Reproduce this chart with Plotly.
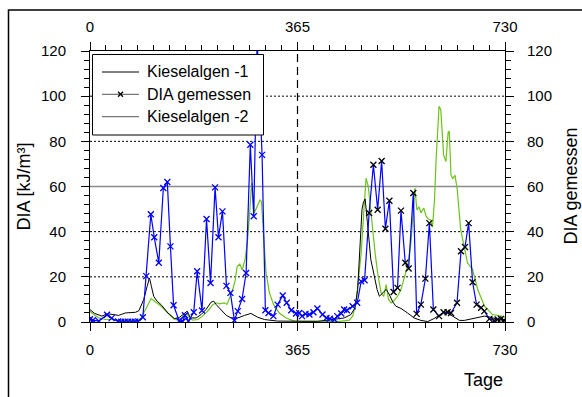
import plotly.graph_objects as go

# --- data -------------------------------------------------------------
# measured diatom values (day, kJ/m3)
dia_days = [0, 5, 15.5, 30, 38, 49.5, 55, 61, 67, 73, 79, 85, 93, 99, 107, 113, 121,
            129, 136, 141.5, 147, 157, 163, 167, 173, 182.5, 188.5, 197, 205, 212, 220,
            226, 233, 240, 247, 254, 260, 267.5, 274.6, 282, 288, 294, 302.7, 308.5,
            314, 322.6, 330, 339, 346, 354, 362.5, 368, 373, 379, 386, 393, 400, 409,
            416, 422, 430, 435, 442, 447, 452, 462, 470, 477, 483, 491, 498.5, 506,
            513, 519.6, 526.6, 534, 541, 547, 554.6, 560.5, 568.7, 574.6, 582, 590,
            597, 604, 614, 622, 629, 635, 645.6, 652.6, 659.6, 666, 673, 680, 688,
            693.6, 702.5, 711, 717, 723, 728]
dia_vals = [1.2, 0.8, 0.4, 3.2, 1.7, 0.2, 0.1, 0.1, 0.1, 0.1, 0.1, 0.2, 2.1, 20.3, 47.7,
            37.5, 26.2, 59.3, 62, 33.5, 7.4, 0.4, 0.2, 3, 0.4, 4.3, 22.5, 5.1, 45.6, 17.3,
            59.6, 37.5, 49, 16, 12.9, 0.7, 4.8, 10.2, 21.7, 78.5, 46.8, 125, 74, 5.2,
            4, 2.6, 7.7, 11.7, 8.5, 5.2, 3.8, 4, 2.6, 3.6, 3.3, 4.3, 6, 3.3,
            1.8, 1.5, 1.1, 2.6, 3.8, 5.5, 5.2, 7, 8.5, 18, 18.5, 48.3, 69.6, 49.7,
            71.3, 41.3, 53.7, 13.3, 15.1, 49.3, 26.2, 23.7, 57.1, 3.6, 7.7, 19.2,
            43.8, 5.5, 2.6, 4.3, 4.3, 4, 8.5, 31.3, 33.2, 43.8, 17.6, 7.7, 6.3,
            4.8, 1.4, 0.6, 1.1, 1.4, 0.8]

# simulated diatoms, run 1
k1_days = [0, 8, 21, 30, 42, 50, 62, 80, 86, 94.6, 100.5, 104.6, 108, 112, 118, 125,
           137, 148.6, 157, 166, 171, 176.6, 186.7, 195.5, 204, 213, 217.7, 222, 230.6,
           239.5, 248, 260, 271.6, 283, 295, 306.8, 330, 362.5, 400, 418, 447, 459, 466,
           470.8, 475, 478.5, 481, 484, 488, 494, 499, 505, 509, 516, 521, 525, 532.6,
           538, 547, 558.6, 570, 582, 594, 605, 614.5, 623, 629, 638, 650, 658.5, 670,
           681.6, 693.6, 705, 717, 730]
k1_vals = [5.5, 3.8, 2.6, 3.6, 3.3, 2.9, 4, 4.3, 5, 10, 15.8, 19.5, 15.8, 11.4, 9.2, 7.7,
           4, 1.5, 2, 4, 4.8, 1.8, 1.8, 3.3, 5.5, 8.8, 9.2, 7.7, 5.5,
           3, 1.8, 1.8, 2.9, 3.8, 2.1, 1.1, 0.4, 0.3, 0.3, 0.8, 1.8, 3.3, 6.3,
           14.4, 33.5, 50, 53, 54.5, 44, 27.6, 21.7, 14.4, 11.4, 13.2, 14.4, 12.9, 8.9,
           7, 6, 4, 1.8, 0.7, 0.2, 1.5, 3, 4.3, 4, 2.6, 0.7, 0.7, 1.4,
           2.1, 2.6, 2.1, 1.1, 0.7]

# simulated diatoms, run 2
k2_days = [0, 6.7, 15.5, 27, 39, 56.6, 80, 89, 96, 103, 107.6, 112, 118, 125, 137, 148.6,
           157, 165, 171, 175, 180.7, 189.5, 198, 207, 216, 222, 227.7, 236.5, 241, 245,
           250, 255, 259, 263.5, 267.6, 273, 277, 280.5, 284.3, 289, 294, 299, 301.5,
           305.6, 309.7, 315.6, 323, 333, 345, 359.5, 400, 440, 456, 462, 468, 472.6,
           477, 481.5, 485.6, 489.6, 493, 497, 501.5, 506, 512, 516.6, 521, 525, 529.6,
           535, 541, 547, 553, 558.6, 564.6, 569, 571.6, 575, 579, 582, 587, 591, 595,
           598.6, 602.5, 606, 609, 614, 617, 622, 626, 630, 632, 635, 638, 642, 646,
           652, 658, 664, 673, 682, 694, 708, 723, 730]
k2_vals = [4.8, 3.3, 1.8, 1.1, 1.1, 0.7, 0.7, 1.4, 4.8, 8.5, 10.4, 9.5, 8.5, 7, 4, 1.1,
           0.8, 2.9, 3.6, 1.8, 0.8, 1.1, 2.6, 4.8, 7.7, 8.5, 8, 8.5, 7.8, 10.5,
           13.5, 18, 24.7, 25.7, 23, 28, 36, 46.7, 61.5, 48.3, 51, 54, 53.4,
           36.5, 21.7, 12.9, 7.7, 4, 1.8, 0.4, 0.3, 0.3, 0.8, 2.6, 8.5, 18.8,
           30.6, 48.3, 63.7, 60, 51.2, 40.9, 30.6, 21.7, 12.9, 11.4, 16.6, 10, 8.5,
           9.5, 11.4, 14.4, 20.3, 24.7, 35, 48.3, 59.3, 49.7, 51, 48.3, 50.5, 47, 45.6,
           45.3, 42, 54, 73, 95.5, 94, 74, 71, 84, 84.5, 65, 63.5, 65, 58.6,
           41, 33.5, 26.2, 23.2, 14.4, 7, 3.3, 2.6, 2.1]

# axis labels and legend entries
x_ticks = [0, 365, 730]
y_ticks = [0, 20, 40, 60, 80, 100, 120]
legend_names = ["Kieselalgen -1", "DIA gemessen", "Kieselalgen -2"]
legend_colors = ["black", "#555555", "#555555"]

FONT = "Arial, Liberation Sans, sans-serif"
BLUE = "#0000ff"
GREEN = "#6cc31a"

# plot area geometry in pixels (used for paper-coordinate placement)
L, R, T, B = 90, 77, 51, 75
W, H = 582, 397
PW, PH = W - L - R, H - T - B


def px(x):
    return (x - L) / PW


def py(y):
    return (H - B - y) / PH


# markers of the second year are drawn in black
marker_cols = [BLUE if d < 488 else "black" for d in dia_days]

fig = go.Figure()

fig.add_trace(go.Scatter(x=k2_days, y=k2_vals, mode="lines", name=legend_names[2],
                         line=dict(color=GREEN, width=1.2), showlegend=False))
fig.add_trace(go.Scatter(x=k1_days, y=k1_vals, mode="lines", name=legend_names[0],
                         line=dict(color="black", width=1), showlegend=False))
fig.add_trace(go.Scatter(x=dia_days, y=dia_vals, mode="lines+markers", yaxis="y2",
                         name=legend_names[1],
                         line=dict(color=BLUE, width=1.2),
                         marker=dict(symbol="x-thin", size=6,
                                     line=dict(color=marker_cols, width=1.3)),
                         showlegend=False))
# carrier for the top axis
fig.add_trace(go.Scatter(x=[None], y=[None], xaxis="x2", showlegend=False))

shapes = []
# horizontal grid
for v in [20, 40, 80, 100]:
    shapes.append(dict(type="line", xref="paper", x0=0, x1=1, yref="y", y0=v, y1=v,
                       line=dict(color="black", width=1, dash="2px,2px"), layer="below"))
shapes.append(dict(type="line", xref="paper", x0=0, x1=1, yref="y", y0=60, y1=60,
                   line=dict(color="#8a8a8a", width=1.3), layer="below"))
# year boundary
shapes.append(dict(type="line", xref="x", x0=365, x1=365, yref="y", y0=0, y1=120,
                   line=dict(color="black", width=1.2, dash="8px,5px"), layer="below"))
# outer frame
shapes.append(dict(type="rect", xref="paper", yref="paper",
                   x0=px(8.5), x1=1.4, y0=-0.6, y1=py(10),
                   line=dict(color="black", width=1.5), fillcolor="rgba(0,0,0,0)"))

# legend box
shapes.append(dict(type="rect", xref="paper", yref="paper",
                   x0=px(92.5), x1=px(263.5), y0=py(135), y1=py(54.5),
                   line=dict(color="black", width=1), fillcolor="white", layer="above"))
annotations = []
rows = [72, 94.3, 116.7]
for name, col, ry in zip(legend_names, legend_colors, rows):
    shapes.append(dict(type="line", xref="paper", yref="paper",
                       x0=px(102), x1=px(139), y0=py(ry), y1=py(ry),
                       line=dict(color=col, width=1), layer="above"))
    annotations.append(dict(text=name, xref="paper", yref="paper", x=px(144.5), y=py(ry),
                            xanchor="left", yanchor="middle", showarrow=False,
                            font=dict(size=16, family=FONT, color="black")))
# cross symbol of the measured series
cx, cy, s = 120.5, rows[1], 2.5
for dy in (-s, s):
    shapes.append(dict(type="line", xref="paper", yref="paper",
                       x0=px(cx - s), x1=px(cx + s), y0=py(cy - dy), y1=py(cy + dy),
                       line=dict(color="black", width=1.3), layer="above"))

xcommon = dict(range=[0, 730], tickvals=x_ticks, ticks="outside", ticklen=8,
               tickcolor="black", showline=True, linecolor="black", linewidth=1,
               showgrid=False, zeroline=False,
               tickfont=dict(family=FONT, size=15, color="black"),
               minor=dict(tick0=0, dtick=365 / 13, ticks="outside", ticklen=5,
                          tickcolor="black", showgrid=False))
ycommon = dict(range=[0, 120], tickvals=y_ticks, ticks="outside", ticklen=8,
               tickcolor="black", showline=True, linecolor="black", linewidth=1,
               showgrid=False, zeroline=False,
               tickfont=dict(family=FONT, size=15, color="black"),
               minor=dict(tick0=0, dtick=4, ticks="outside", ticklen=5,
                          tickcolor="black", showgrid=False))

annotations += [
    dict(text="DIA [kJ/m³]", xref="paper", yref="paper", x=px(23), y=0.5,
         xanchor="center", yanchor="middle",
         textangle=-90, showarrow=False, font=dict(size=18, family=FONT)),
    dict(text="DIA gemessen", xref="paper", yref="paper", x=px(570), y=0.5,
         xanchor="center", yanchor="middle",
         textangle=-90, showarrow=False, font=dict(size=18, family=FONT)),
    dict(text="Tage", xref="paper", yref="paper", x=px(505), y=py(380),
         xanchor="right", yanchor="middle", showarrow=False,
         font=dict(size=18, family=FONT)),
]

fig.update_layout(
    width=W, height=H,
    margin=dict(l=L, r=R, t=T, b=B),
    paper_bgcolor="white", plot_bgcolor="white",
    font=dict(family=FONT, color="black"),
    showlegend=False,
    xaxis=dict(**xcommon, ticklabelstandoff=6),
    xaxis2=dict(**xcommon, overlaying="x", side="top", anchor="y", ticklabelstandoff=4),
    yaxis=dict(**ycommon, ticklabelstandoff=12),
    yaxis2=dict(**ycommon, overlaying="y", side="right", anchor="x", ticklabelstandoff=10),
    shapes=shapes,
    annotations=annotations,
)

fig.write_html("out.html")
